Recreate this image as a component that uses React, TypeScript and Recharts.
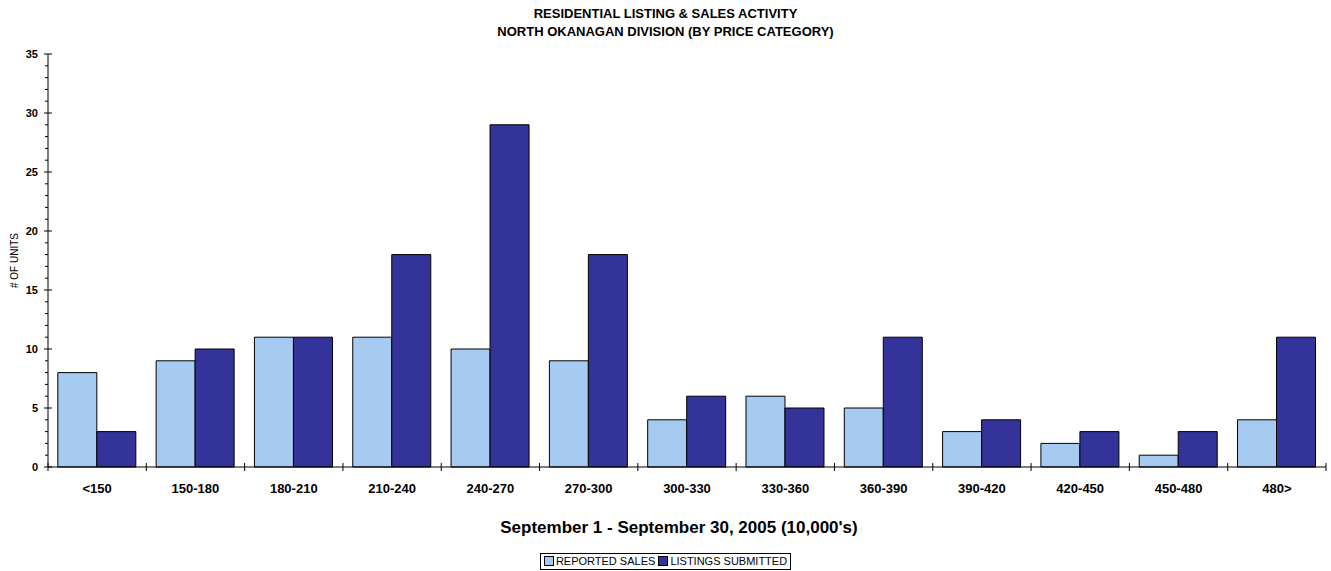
import { BarChart, Bar, XAxis, YAxis } from 'recharts';

// price categories (10,000's)
const categories = ['<150', '150-180', '180-210', '210-240', '240-270', '270-300', '300-330', '330-360', '360-390', '390-420', '420-450', '450-480', '480>'];
const reportedSales = [8, 9, 11, 11, 10, 9, 4, 6, 5, 3, 2, 1, 4];
const listingsSubmitted = [3, 10, 11, 18, 29, 18, 6, 5, 11, 4, 3, 3, 11];
const yTicks = [0, 5, 10, 15, 20, 25, 30, 35];

const data = categories.map((c, i) => ({
  category: c,
  sales: reportedSales[i],
  listings: listingsSubmitted[i],
}));

const W = 1331;
const H = 571;
const margin = { top: 54, right: 5, bottom: 74, left: 0 };
const yAxisWidth = 48;
const plotWidth = W - margin.left - margin.right - yAxisWidth;
const band = plotWidth / categories.length;

const FONT = "'Liberation Sans', Arial, sans-serif";
const LIGHT = '#A6CAF0';
const DARK = '#333399';

// every integer gets a minor tick, multiples of 5 get a label
const minorTicks: number[] = [];
for (let v = 0; v <= 35; v++) minorTicks.push(v);

const YTick = (props: any) => {
  const { x, y, payload } = props;
  const major = yTicks.includes(payload.value);
  return (
    <g>
      <line x1={major ? x - 4 : x - 3} x2={major ? x + 4 : x} y1={y} y2={y} stroke="#000" strokeWidth={1} />
      {major && (
        <text x={x - 10} y={y} dy={4} textAnchor="end" fontSize={11} fontWeight="bold" fontFamily={FONT} fill="#000">
          {payload.value}
        </text>
      )}
    </g>
  );
};

const XTick = (props: any) => {
  const { x, y, payload, index } = props;
  const left = x - band / 2;
  return (
    <g>
      <line x1={left} x2={left} y1={y - 4} y2={y + 4} stroke="#000" strokeWidth={1} />
      {index === categories.length - 1 && (
        <line x1={x + band / 2} x2={x + band / 2} y1={y - 4} y2={y + 4} stroke="#000" strokeWidth={1} />
      )}
      <text x={x} y={y} dy={26} textAnchor="middle" fontSize={13} fontWeight="bold" fontFamily={FONT} fill="#000">
        {payload.value}
      </text>
    </g>
  );
};

const YLabel = (props: any) => {
  const vb = props.viewBox;
  const cx = vb.x + 14;
  const cy = vb.y + vb.height / 2;
  return (
    <text x={cx} y={cy} transform={`rotate(-90 ${cx} ${cy})`} textAnchor="middle" dy={4} fontSize={10} fontFamily={FONT} fill="#000">
      # OF UNITS
    </text>
  );
};

const swatch = (color: string) => (
  <span
    style={{
      display: 'inline-block',
      width: 8,
      height: 8,
      background: color,
      border: '1px solid #000',
      marginRight: 2,
      verticalAlign: 'middle',
      position: 'relative',
      top: -1,
    }}
  />
);

export default function App() {
  const plotCenter = margin.left + yAxisWidth + plotWidth / 2;
  return (
    <div style={{ position: 'absolute', left: 0, top: 0, width: W, height: H, background: '#fff', fontFamily: FONT }}>
      <div
        style={{
          position: 'absolute',
          left: 0,
          top: 5,
          width: W,
          textAlign: 'center',
          fontSize: 13,
          fontWeight: 'bold',
          lineHeight: '18px',
          color: '#000',
        }}
      >
        RESIDENTIAL LISTING &amp; SALES ACTIVITY
        <br />
        NORTH OKANAGAN DIVISION (BY PRICE CATEGORY)
      </div>
      <BarChart width={W} height={H} data={data} margin={margin} barGap={0} barCategoryGap="10%">
        <XAxis
          dataKey="category"
          interval={0}
          tickSize={0}
          tickMargin={0}
          tickLine={false}
          axisLine={{ stroke: '#000' }}
          tick={<XTick />}
          height={30}
        />
        <YAxis
          domain={[0, 35]}
          ticks={minorTicks}
          interval={0}
          width={yAxisWidth}
          tickSize={0}
          tickMargin={0}
          tickLine={false}
          axisLine={{ stroke: '#000' }}
          tick={<YTick />}
          label={<YLabel />}
        />
        <Bar dataKey="sales" name="REPORTED SALES" fill={LIGHT} stroke="#000" strokeWidth={1} isAnimationActive={false} />
        <Bar dataKey="listings" name="LISTINGS SUBMITTED" fill={DARK} stroke="#000" strokeWidth={1} isAnimationActive={false} />
      </BarChart>
      <div
        style={{
          position: 'absolute',
          left: plotCenter - 8 - 300,
          width: 600,
          top: 517,
          textAlign: 'center',
          fontSize: 17,
          lineHeight: '22px',
          fontWeight: 'bold',
          color: '#000',
        }}
      >
        September 1 - September 30, 2005 (10,000's)
      </div>
      <div style={{ position: 'absolute', left: 0, width: W, top: 551, textAlign: 'center' }}>
        <div
          style={{
            display: 'inline-block',
            border: '1px solid #000',
            padding: '1px 3px',
            fontSize: 11,
            lineHeight: '13px',
            color: '#000',
            whiteSpace: 'nowrap',
          }}
        >
          {swatch(LIGHT)}REPORTED SALES&nbsp;{swatch(DARK)}LISTINGS SUBMITTED
        </div>
      </div>
    </div>
  );
}
